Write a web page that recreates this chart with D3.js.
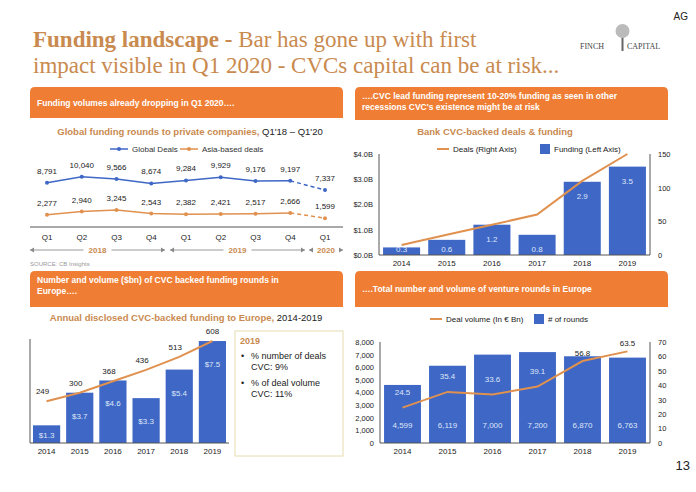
<!DOCTYPE html>
<html><head><meta charset="utf-8">
<script src="https://cdn.jsdelivr.net/npm/d3@7"></script>
<style>body{margin:0;background:#fff}svg{font-family:"Liberation Sans",Arial,sans-serif}</style>
</head><body><svg id="c" width="696" height="492"></svg>
<script>
// Chart 1
const quarters=["Q1","Q2","Q3","Q4","Q1","Q2","Q3","Q4","Q1"];
const globalDeals=[8791,10040,9566,8674,9284,9929,9176,9197,7337];
const asiaDeals=[2277,2940,3245,2543,2382,2421,2517,2666,1599];
// Chart 2
const years=["2014","2015","2016","2017","2018","2019"];
const bankFunding=[0.3,0.6,1.2,0.8,2.9,3.5];
const bankDeals=[15,30,45,60,110,150];
const bankLeftTicks=["$0.0B","$1.0B","$2.0B","$3.0B","$4.0B"];
// Chart 3
const cvcVolume=[1.3,3.7,4.6,3.3,5.4,7.5];
const cvcDeals=[249,300,368,436,513,608];
// Chart 4
const rounds=[4599,6119,7000,7200,6870,6763];
const dealVolume=[24.5,35.4,33.6,39.1,56.8,63.5];

const svg=d3.select("#c");
const BLUE="#3e67c6",ORANGE="#e0914f",HDR="#ef7e34",TITLE="#c98a4f",TXT="#333";
const fmt=d3.format(",");

// Title
svg.append("text").attr("x",688).attr("y",20).attr("text-anchor","end").attr("font-size",10).attr("fill","#222").text("AG");
const t=svg.append("text").attr("font-family","'Liberation Serif',serif").attr("font-size",23).attr("fill",TITLE);
t.append("tspan").attr("x",33).attr("y",47).attr("font-weight","bold").text("Funding landscape - ");
t.append("tspan").text("Bar has gone up with first");
t.append("tspan").attr("x",33).attr("y",73).text("impact visible in Q1 2020 - CVCs capital can be at risk...");
const lg=svg.append("g").attr("font-family","'Liberation Serif',serif").attr("fill","#444");
lg.append("text").attr("x",580).attr("y",49).attr("font-size",8).text("FINCH");
lg.append("text").attr("x",627).attr("y",49).attr("font-size",8).text("CAPITAL");
lg.append("rect").attr("x",621.5).attr("y",36).attr("width",2).attr("height",15).attr("fill","#666");
lg.append("circle").attr("cx",622.5).attr("cy",31).attr("r",7).attr("fill","#bbb");
svg.append("text").attr("x",690).attr("y",470).attr("text-anchor","end").attr("font-size",13).attr("fill","#222").text("13");

function header(x,y,w,h,lines){
  svg.append("path").attr("d",`M${x},${y+h}V${y+5}Q${x},${y} ${x+5},${y}H${x+w-5}Q${x+w},${y} ${x+w},${y+5}V${y+h}Z`).attr("fill",HDR);
  lines.forEach((l,i)=>svg.append("text").attr("x",x+7).attr("y",y+(lines.length==1?h/2+3:12+i*11)).attr("font-size",8.5).attr("font-weight","bold").attr("fill","#fff").text(l));
}
header(30,87,313,31,["Funding volumes already dropping in Q1 2020…."]);
header(355,87,313,33,["….CVC lead funding represent 10-20% funding as seen in other","recessions CVC's existence might be at risk"]);
header(30,271,313,36,["Number and volume ($bn) of CVC backed funding rounds in","Europe…."]);
header(355,271,313,36,["….Total number and volume of venture rounds in Europe"]);

function sub(x,y,a,b){const s=svg.append("text").attr("x",x).attr("y",y).attr("text-anchor","middle").attr("font-size",9.5);
 s.append("tspan").attr("fill",TITLE).attr("font-weight","bold").text(a); if(b) s.append("tspan").attr("fill","#222").text(b);}

// ---- Chart 1
sub(190,135,"Global funding rounds to private companies, ","Q1'18 – Q1'20");
{
 const x=d3.scalePoint().domain(d3.range(9)).range([47,325]);
 const y=d3.scaleLinear().domain([0,11000]).range([226,172]);
 const g=svg.append("g");
 [[BLUE,"Global Deals",110],[ORANGE,"Asia-based deals",180]].forEach(([c,l,lx])=>{
  g.append("line").attr("x1",lx).attr("x2",lx+18).attr("y1",149).attr("y2",149).attr("stroke",c).attr("stroke-width",1.5);
  g.append("circle").attr("cx",lx+9).attr("cy",149).attr("r",2).attr("fill",c);
  g.append("text").attr("x",lx+22).attr("y",152).attr("font-size",8).attr("fill",TXT).text(l);});
 [[globalDeals,BLUE],[asiaDeals,ORANGE]].forEach(([d,c])=>{
  const line=d3.line().x((v,i)=>x(i)).y(v=>y(v));
  g.append("path").attr("d",line(d.slice(0,8))).attr("fill","none").attr("stroke",c).attr("stroke-width",1.5);
  g.append("path").attr("d",line.x((v,i)=>x(i+7))(d.slice(7))).attr("fill","none").attr("stroke",c).attr("stroke-width",1.5).attr("stroke-dasharray","4,3");
  d.forEach((v,i)=>{g.append("circle").attr("cx",x(i)).attr("cy",y(v)).attr("r",2).attr("fill",c);
   g.append("text").attr("x",x(i)).attr("y",y(v)-9).attr("text-anchor","middle").attr("font-size",8).attr("fill","#222").text(fmt(v));});
 });
 g.append("line").attr("x1",30).attr("x2",343).attr("y1",227).attr("y2",227).attr("stroke","#555");
 quarters.forEach((q,i)=>g.append("text").attr("x",x(i)).attr("y",240).attr("text-anchor","middle").attr("font-size",8).attr("fill","#222").text(q));
 [["2018",30,165],["2019",170,305],["2020",309,343]].forEach(([l,a,b])=>{
  const m=(a+b)/2;
  g.append("line").attr("x1",a).attr("x2",b).attr("y1",250).attr("y2",250).attr("stroke","#999");
  g.append("rect").attr("x",m-14).attr("y",244).attr("width",28).attr("height",10).attr("fill","#fff");
  g.append("text").attr("x",m).attr("y",253).attr("text-anchor","middle").attr("font-size",8).attr("font-weight","bold").attr("fill",TITLE).text(l);
  g.append("path").attr("d",`M${a},250l4,-2.5v5z M${b},250l-4,-2.5v5z`).attr("fill","#888");});
 g.append("text").attr("x",30).attr("y",266).attr("font-size",6).attr("fill","#999").text("SOURCE: CB Insights");
}

function dualChart(o){
 const g=svg.append("g");
 const x=d3.scaleBand().domain(years).range([o.x0,o.x1]).paddingInner(0.18).paddingOuter(0.09);
 const yl=d3.scaleLinear().domain(o.ld).range([o.yb,o.yt]);
 const yr=d3.scaleLinear().domain(o.rd).range([o.yb,o.yt]);
 g.selectAll("rect.b").data(o.bars).join("rect").attr("x",(d,i)=>x(years[i])).attr("width",x.bandwidth())
  .attr("y",d=>yl(d)).attr("height",d=>o.yb-yl(d)).attr("fill",BLUE);
 const cx=i=>x(years[i])+x.bandwidth()/2;
 g.append("path").attr("d",d3.line().x((v,i)=>cx(i)).y(v=>yr(v))(o.line)).attr("fill","none").attr("stroke",ORANGE).attr("stroke-width",2);
 if(o.leftAxis){
  const ax=d3.axisLeft(yl).tickValues(o.lt).tickFormat(o.lf).tickSize(0).tickPadding(6);
  g.append("g").attr("transform",`translate(${o.x0},0)`).call(ax).call(s=>{s.select(".domain").remove();s.selectAll("text").attr("font-size",7.5).attr("fill","#222").attr("font-family","inherit");});
 }
 g.append("line").attr("x1",o.x0).attr("x2",o.x0).attr("y1",o.yt).attr("y2",o.yb).attr("stroke","#555");
 if(o.rightAxis){
  g.append("line").attr("x1",o.x1).attr("x2",o.x1).attr("y1",o.yt).attr("y2",o.yb).attr("stroke","#555");
  const ax=d3.axisRight(yr).tickValues(o.rt).tickSize(0).tickPadding(8);
  g.append("g").attr("transform",`translate(${o.x1},0)`).call(ax).call(s=>{s.select(".domain").remove();s.selectAll("text").attr("font-size",7.5).attr("fill","#222").attr("font-family","inherit");});
 }
 g.append("line").attr("x1",o.x0).attr("x2",o.x1).attr("y1",o.yb).attr("y2",o.yb).attr("stroke","#555");
 years.forEach((yy,i)=>g.append("text").attr("x",cx(i)).attr("y",o.yb+11).attr("text-anchor","middle").attr("font-size",8).attr("fill","#222").text(yy));
 return {g,x,yl,yr,cx};
}
function legend(g,items,y){
 items.forEach(([type,lbl,lx])=>{
  if(type=="line") g.append("line").attr("x1",lx).attr("x2",lx+12).attr("y1",y).attr("y2",y).attr("stroke",ORANGE).attr("stroke-width",2);
  else g.append("rect").attr("x",lx).attr("y",y-5).attr("width",10).attr("height",10).attr("fill",BLUE);
  g.append("text").attr("x",lx+(type=="line"?16:14)).attr("y",y+3).attr("font-size",8).attr("fill","#222").text(lbl);});
}

// ---- Chart 2
sub(495,135,"Bank CVC-backed deals & funding","");
{
 const c=dualChart({x0:379,x1:650,yb:255,yt:154,ld:[0,4],rd:[0,150],bars:bankFunding,line:bankDeals,
  leftAxis:true,lt:[0,1,2,3,4],lf:(d,i)=>bankLeftTicks[i],rightAxis:true,rt:[0,50,100,150]});
 legend(c.g,[["line","Deals (Right Axis)",437],["rect","Funding (Left Axis)",540]],149);
 bankFunding.forEach((v,i)=>c.g.append("text").attr("x",c.cx(i)).attr("y",Math.min(c.yl(v)+17,252)).attr("text-anchor","middle").attr("font-size",8).attr("fill","#dfe6f7").text(v));
}

// ---- Chart 3
sub(186,321,"Annual disclosed CVC-backed funding to Europe, ","2014-2019");
{
 const c=dualChart({x0:30,x1:229,yb:443,yt:339,ld:[0,7.65],rd:[0,620],bars:cvcVolume,line:cvcDeals});
 cvcVolume.forEach((v,i)=>c.g.append("text").attr("x",c.cx(i)).attr("y",v<2?c.yl(v)+13:c.yl(v)+26).attr("text-anchor","middle").attr("font-size",8).attr("fill","#dfe6f7").text("$"+v));
 cvcDeals.forEach((v,i)=>c.g.append("text").attr("x",c.cx(i)-(i==5?0:4)).attr("y",c.yr(v)-7).attr("text-anchor","middle").attr("font-size",8).attr("fill","#222").text(v));
 const b=svg.append("g");
 b.append("rect").attr("x",235).attr("y",331).attr("width",108).attr("height",125).attr("fill","#fff").attr("stroke","#e6dcae");
 b.append("text").attr("x",240).attr("y",344).attr("font-size",9).attr("font-weight","bold").attr("fill",TITLE).text("2019");
 [["% number of deals","CVC: 9%",359],["% of deal volume","CVC: 11%",386]].forEach(([a,bb,yy])=>{
  b.append("text").attr("x",241).attr("y",yy).attr("font-size",9).attr("fill","#222").text("•");
  b.append("text").attr("x",251).attr("y",yy).attr("font-size",9).attr("fill","#222").text(a);
  b.append("text").attr("x",251).attr("y",yy+11).attr("font-size",9).attr("fill","#222").text(bb);});
}

// ---- Chart 4
{
 const c=dualChart({x0:380,x1:650,yb:443,yt:342,ld:[0,8000],rd:[0,70],bars:rounds,line:dealVolume,
  leftAxis:true,lt:d3.range(0,8001,1000),lf:fmt,rightAxis:true,rt:d3.range(0,71,10)});
 legend(c.g,[["line","Deal volume (In € Bn)",430],["rect","# of rounds",534]],319);
 rounds.forEach((v,i)=>c.g.append("text").attr("x",c.cx(i)).attr("y",428).attr("text-anchor","middle").attr("font-size",8).attr("fill","#dfe6f7").text(fmt(v)));
 dealVolume.forEach((v,i)=>c.g.append("text").attr("x",c.cx(i)).attr("y",c.yr(v)-(i>=4?5:13)).attr("text-anchor","middle").attr("font-size",8).attr("fill",i>=4?"#222":"#dfe6f7").text(v));
}
</script></body></html>
